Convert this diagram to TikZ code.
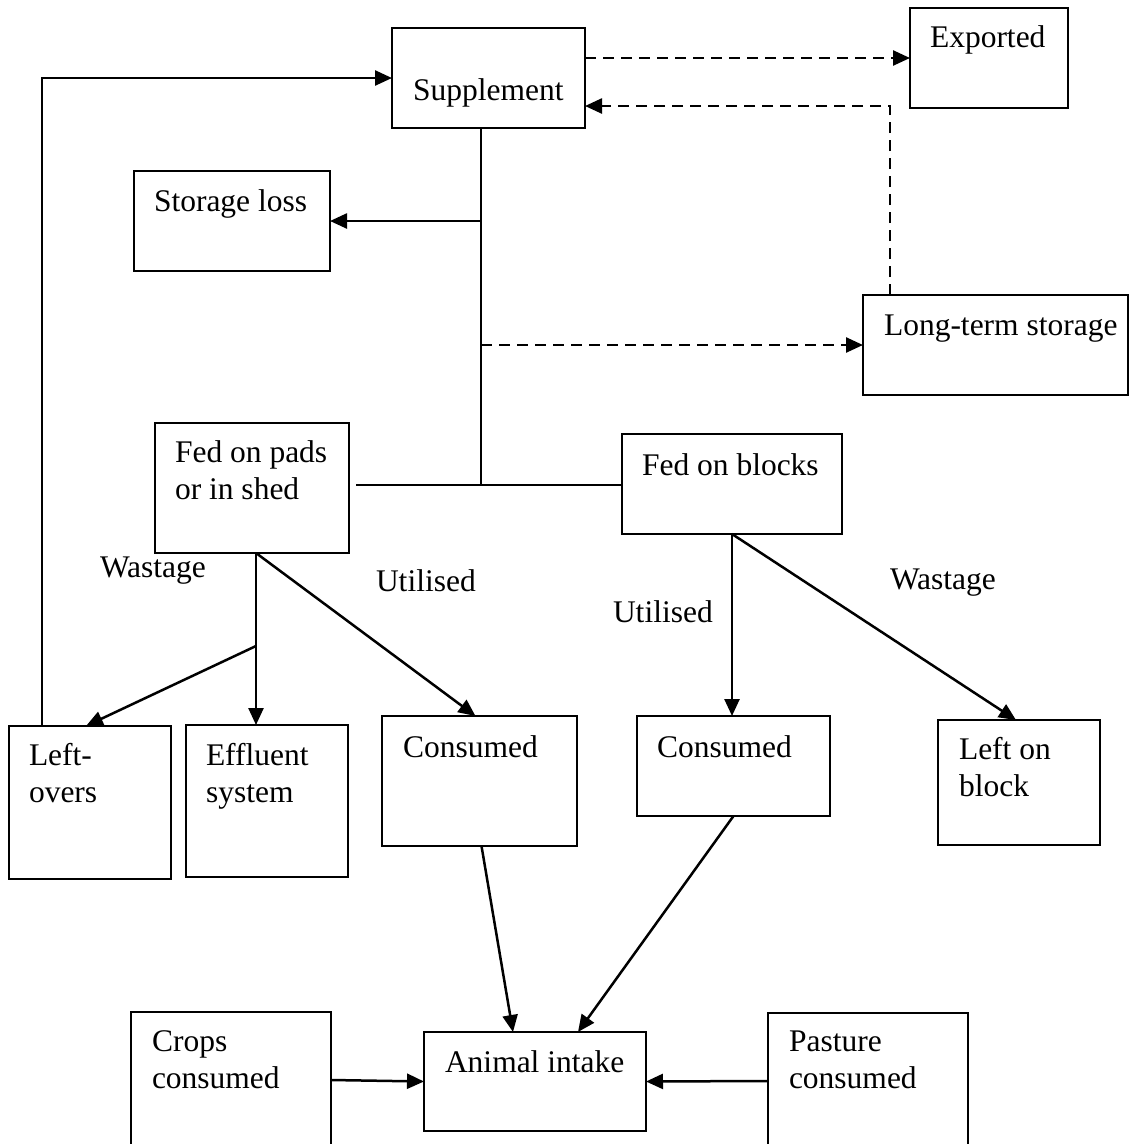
\documentclass[tikz,border=0pt]{standalone}
\usepackage{fontspec}
\setmainfont{Liberation Serif}
\usetikzlibrary{arrows.meta}
\newcommand\diafont{\fontsize{31.5}{36.5}\selectfont}
\begin{document}
\begin{tikzpicture}[x=1pt,y=-1pt,
  box/.style={draw, line width=1.5pt, rectangle, inner sep=0pt, outer sep=0pt, anchor=north west},
  txt/.style={anchor=base west, inner sep=0pt, outer sep=0pt, font=\diafont, align=left},
  conn/.style={line width=2.5pt, -{Triangle[length=17pt,width=15pt]}},
  dsh/.style={conn, dash pattern=on 11pt off 7pt},
  plainline/.style={line width=2.5pt}]
\useasboundingbox (0,0) rectangle (1130,1144);
\clip (0,0) rectangle (1130,1144);
% boxes
\node[box, minimum width=193pt, minimum height=100pt] (sup) at (392,28) {};
\node[box, minimum width=158pt, minimum height=100pt] (exp) at (910,8) {};
\node[box, minimum width=196pt, minimum height=100pt] (sto) at (134,171) {};
\node[box, minimum width=265pt, minimum height=100pt] (lts) at (863,295) {};
\node[box, minimum width=194pt, minimum height=130pt] (pads) at (155,423) {};
\node[box, minimum width=220pt, minimum height=100pt] (blk) at (622,434) {};
\node[box, minimum width=162pt, minimum height=153pt] (lov) at (9,726) {};
\node[box, minimum width=162pt, minimum height=152pt] (eff) at (186,725) {};
\node[box, minimum width=195pt, minimum height=130pt] (conL) at (382,716) {};
\node[box, minimum width=193pt, minimum height=100pt] (conR) at (637,716) {};
\node[box, minimum width=162pt, minimum height=125pt] (lob) at (938,720) {};
\node[box, minimum width=200pt, minimum height=136pt] (crp) at (131,1012) {};
\node[box, minimum width=222pt, minimum height=99pt] (ani) at (424,1032) {};
\node[box, minimum width=200pt, minimum height=136pt] (pas) at (768,1013) {};
% texts (multi-line nodes: base = last line)
\node[txt] (supT) at (413,100) {Supplement};
\node[txt] (expT) at (930,47) {Exported};
\node[txt] (stoT) at (154,211) {Storage loss};
\node[txt] (ltsT) at (884,335) {Long-term storage};
\node[txt] (padsT) at (175,499) {Fed on pads\\or in shed};
\node[txt] (blkT) at (642,475) {Fed on blocks};
\node[txt] (lovT) at (29,802) {Left-\\overs};
\node[txt] (effT) at (206,802) {Effluent\\system};
\node[txt] (conLT) at (403,757) {Consumed};
\node[txt] (conRT) at (657,757) {Consumed};
\node[txt] (lobT) at (959,796) {Left on\\block};
\node[txt] (crpT) at (152,1088) {Crops\\consumed};
\node[txt] (aniT) at (445,1072) {Animal intake};
\node[txt] (pasT) at (789,1088) {Pasture\\consumed};
\node[txt] (w1) at (100,577) {Wastage};
\node[txt] (u1) at (376,591) {Utilised};
\node[txt] (u2) at (613,622) {Utilised};
\node[txt] (w2) at (890,589) {Wastage};
% helper coordinates
\coordinate (lx) at (42,0);
\coordinate (j) at (481,485);
\coordinate (pb) at (256,553);
\coordinate (wb) at (256,646);
% connectors
\draw[conn] (lov.north -| lx) |- (sup.west);
\draw[dsh] (exp.west -| sup.east) -- (exp.west);
\draw[dsh] ([xshift=27pt]lts.north west) |- ([yshift=-28pt]sup.east);
\draw[plainline] (sup.south -| j) -- (j);
\draw[conn] (sto.east -| j) -- (sto.east);
\draw[dsh] (lts.west -| j) -- (lts.west);
\draw[plainline] ([xshift=7pt]pads.east |- j) -- (blk.west |- j);
\draw[conn] (pb) -- (eff.north -| pb);
\draw[conn] (wb) -- ([xshift=-4pt]lov.north);
\draw[conn] (pb) -- ([xshift=-4pt]conL.north);
\draw[conn] (blk.south) -- (conR.north -| blk.south);
\draw[conn] (blk.south) -- ([xshift=-3pt]lob.north);
\draw[conn] ([xshift=2pt]conL.south) -- ([xshift=-22pt]ani.north);
\draw[conn] (conR.south) -- ([xshift=43pt]ani.north);
\draw[conn] (crp.east) -- (ani.west);
\draw[conn] (pas.west) -- (ani.east);
\end{tikzpicture}
\end{document}
